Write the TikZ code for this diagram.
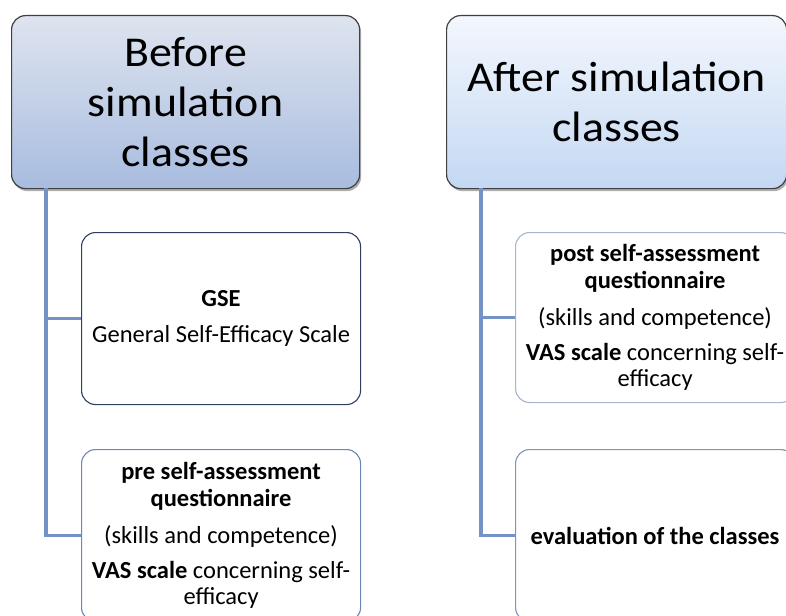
\documentclass[tikz,border=0pt]{standalone}
\usepackage{fontspec}
\setmainfont{Carlito}
\newfontfamily\hdrfont[FakeStretch=1.08]{Carlito}
\usetikzlibrary{calc,shadows}
\definecolor{hdrtopL}{HTML}{DEE4EF}
\definecolor{hdrbotL}{HTML}{A8BCDF}
\definecolor{hdrtopR}{HTML}{F3F7FD}
\definecolor{hdrbotR}{HTML}{C4D8F3}
\definecolor{connc}{HTML}{7292C8}
\definecolor{bordA}{HTML}{2F405F}
\definecolor{bordB}{HTML}{6C87B5}
\definecolor{bordC}{HTML}{A6B6CE}
\definecolor{bordD}{HTML}{7F94BA}
\tikzset{
  hdrbox/.style={draw=black!75, line width=1.2pt, rounded corners=14pt, anchor=north west,
    minimum width=348pt, minimum height=173pt, align=center, inner sep=0pt,
    font=\hdrfont\fontsize{42.5}{50}\selectfont,
    drop shadow={shadow xshift=1.5pt, shadow yshift=-2.5pt, opacity=0.45, fill=black!70}},
  childbox/.style={draw, line width=1.1pt, fill=white, rounded corners=14pt, anchor=north west,
    minimum width=279pt, minimum height=172pt, align=center, inner sep=0pt,
    font=\fontsize{24.5}{26.5}\selectfont},
  conn/.style={draw=connc, line width=3.8pt}
}
\begin{document}
\begin{tikzpicture}[x=1pt,y=-1pt]
\useasboundingbox (0,0) rectangle (786,615);
\clip (0,0) rectangle (786,615);
% headers
\node[hdrbox, top color=hdrtopL, bottom color=hdrbotL] (h1) at (11,15) {Before\\simulation\\classes};
\node[hdrbox, minimum width=340pt, top color=hdrtopR, bottom color=hdrbotR] (h2) at (446,15) {After simulation\\classes};
% connector starts
\coordinate (s1) at ($(h1.south west)+(35,-1)$);
\coordinate (s2) at ($(h2.south west)+(35,-1)$);
% children left
\node[childbox, draw=bordA] (c1) at (81,232) {\textbf{GSE}\\[9pt]General Self-Efficacy Scale};
\node[childbox, draw=bordB] (c2) at (81,449) {\textbf{pre self-assessment}\\\textbf{questionnaire}\\[11pt](skills and competence)\\[8pt]\textbf{VAS scale} concerning self-\\efficacy};
% children right
\node[childbox, draw=bordC, minimum height=170pt] (c3) at (515,232) {\textbf{post self-assessment}\\\textbf{questionnaire}\\[11pt](skills and competence)\\[8pt]\textbf{VAS scale} concerning self-\\efficacy};
\node[childbox, draw=bordD] (c4) at (515,449) {\textbf{evaluation of the classes}};
% connectors
\draw[conn] (s1) |- (c2.west);
\draw[conn] (s1 |- c1.west) -- (c1.west);
\draw[conn] (s2) |- (c4.west);
\draw[conn] (s2 |- c3.west) -- (c3.west);
\end{tikzpicture}
\end{document}
